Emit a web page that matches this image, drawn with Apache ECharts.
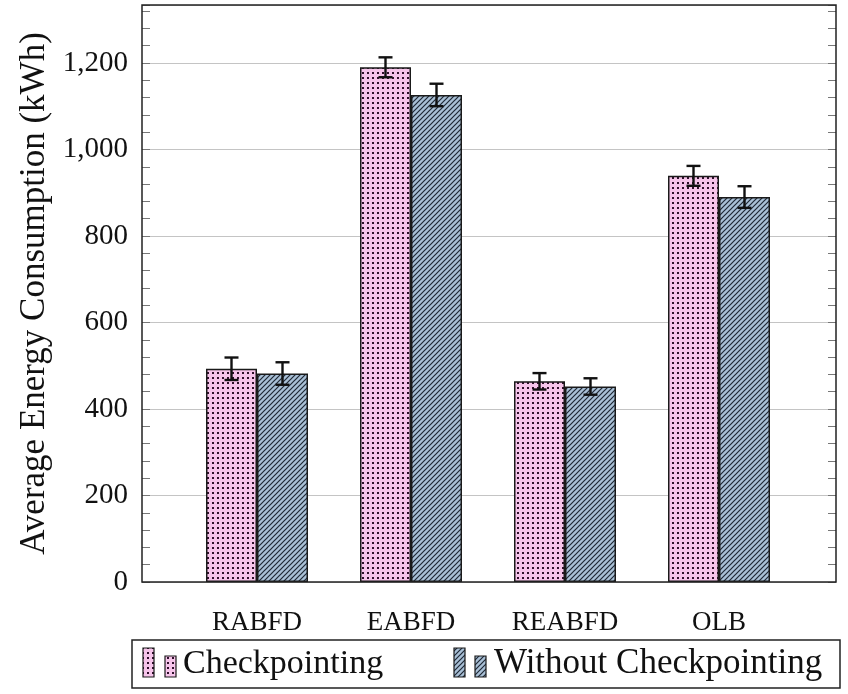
<!DOCTYPE html>
<html>
<head>
<meta charset="utf-8">
<script src="https://cdn.jsdelivr.net/npm/echarts@6/dist/echarts.min.js"></script>
<style>
html,body{margin:0;padding:0;background:#fff;}
#chart{width:848px;height:694px;}
</style>
</head>
<body>
<div id="chart"></div>
<script>
// ---- data ----
var categories = ['RABFD', 'EABFD', 'REABFD', 'OLB'];
var checkpointing = [493, 1190, 464, 939];
var withoutCheckpointing = [482, 1126, 452, 890];
var checkpointingErr = [26, 23, 19, 23];
var withoutCheckpointingErr = [26, 26, 19, 25];
var seriesNames = ['Checkpointing', 'Without Checkpointing'];
var yTickLabels = ['0', '200', '400', '600', '800', '1,000', '1,200'];
var yTitle = 'Average Energy Consumption (kWh)';

var Y_MAX = 1334;
var SERIF = '"Liberation Serif", "DejaVu Serif", serif';

function makeDots() {
  var c = document.createElement('canvas');
  c.width = 5; c.height = 5;
  var g = c.getContext('2d');
  g.fillStyle = '#f6c4ea';
  g.fillRect(0, 0, 5, 5);
  g.fillStyle = '#2e0f2a';
  g.fillRect(2, 2, 2, 2);
  return c;
}
function makeHatch() {
  var s = 5;
  var c = document.createElement('canvas');
  c.width = s; c.height = s;
  var g = c.getContext('2d');
  g.fillStyle = '#a9c0d6';
  g.fillRect(0, 0, s, s);
  g.strokeStyle = '#1f2836';
  g.lineWidth = 1.2;
  g.beginPath();
  g.moveTo(-1, s + 1); g.lineTo(s + 1, -1);
  g.moveTo(-1, 1); g.lineTo(1, -1);
  g.moveTo(s - 1, s + 1); g.lineTo(s + 1, s - 1);
  g.stroke();
  return c;
}
var dotPattern = {image: makeDots(), repeat: 'repeat'};
var hatchPattern = {image: makeHatch(), repeat: 'repeat'};

var chart = echarts.init(document.getElementById('chart'), null, {renderer: 'canvas'});

var BAR_W = 51;

function errRender(offsetSign) {
  return function (params, api) {
    var xi = api.value(0), v = api.value(1), e = api.value(2);
    var top = api.coord([xi, v + e]);
    var bot = api.coord([xi, v - e]);
    var x = top[0] + offsetSign * BAR_W / 2;
    var cap = 7;
    var st = {stroke: '#111', lineWidth: 2.4};
    return {
      type: 'group',
      children: [
        {type: 'line', shape: {x1: x, y1: top[1], x2: x, y2: bot[1]}, style: st},
        {type: 'line', shape: {x1: x - cap, y1: top[1], x2: x + cap, y2: top[1]}, style: st},
        {type: 'line', shape: {x1: x - cap, y1: bot[1], x2: x + cap, y2: bot[1]}, style: st}
      ]
    };
  };
}

var errData1 = categories.map(function (c, i) { return [i, checkpointing[i], checkpointingErr[i]]; });
var errData2 = categories.map(function (c, i) { return [i, withoutCheckpointing[i], withoutCheckpointingErr[i]]; });

var tickAxisBase = {
  type: 'value', gridIndex: 0, min: 0, max: Y_MAX, interval: 40,
  axisLine: {show: false},
  axisLabel: {show: false},
  splitLine: {show: false},
  axisTick: {show: true, inside: true, length: 8, lineStyle: {color: '#777', width: 1}}
};

var option = {
  backgroundColor: '#fff',
  animation: false,
  grid: [
    {left: 142, top: 5, width: 694, height: 577, show: true, borderColor: '#222', borderWidth: 1.5, backgroundColor: 'transparent', z: 10},
    {left: 180, top: 5, width: 616, height: 577}
  ],
  xAxis: [
    {type: 'category', gridIndex: 0, data: categories, show: false},
    {type: 'category', gridIndex: 1, data: categories,
     axisLine: {show: false}, axisTick: {show: false},
     axisLabel: {fontFamily: SERIF, fontSize: 27, color: '#111', margin: 27}}
  ],
  yAxis: [
    {type: 'value', gridIndex: 0, min: 0, max: Y_MAX, interval: 200,
     axisLine: {show: false},
     axisTick: {show: false},
     axisLabel: {fontFamily: SERIF, fontSize: 29, color: '#111', margin: 14,
       formatter: function (v) { var k = Math.round(v / 200); return (v % 200 === 0 && k < yTickLabels.length) ? yTickLabels[k] : ''; }},
     splitLine: {show: true, lineStyle: {color: '#c4c4c4', width: 1.2}},
     name: yTitle, nameLocation: 'middle', nameGap: 88,
     nameTextStyle: {fontFamily: SERIF, fontSize: 35, color: '#111'}},
    Object.assign({}, tickAxisBase, {position: 'left'}),
    Object.assign({}, tickAxisBase, {position: 'right'}),
    {type: 'value', gridIndex: 1, min: 0, max: Y_MAX, show: false}
  ],
  series: [
    {name: seriesNames[0], type: 'bar', xAxisIndex: 1, yAxisIndex: 3, data: checkpointing,
     barWidth: BAR_W, barGap: '0%',
     itemStyle: {color: dotPattern, borderColor: '#1a1a1a', borderWidth: 1.5}},
    {name: seriesNames[1], type: 'bar', xAxisIndex: 1, yAxisIndex: 3, data: withoutCheckpointing,
     barWidth: BAR_W, barGap: '0%',
     itemStyle: {color: hatchPattern, borderColor: '#1a1a1a', borderWidth: 1.5}},
    {type: 'custom', xAxisIndex: 1, yAxisIndex: 3, data: errData1, renderItem: errRender(-1), z: 5},
    {type: 'custom', xAxisIndex: 1, yAxisIndex: 3, data: errData2, renderItem: errRender(1), z: 5}
  ],
  graphic: [
    {type: 'rect', shape: {x: 132, y: 640, width: 708, height: 48}, style: {fill: '#fff', stroke: '#222', lineWidth: 1.5}},
    {type: 'rect', shape: {x: 143, y: 648, width: 11, height: 29}, style: {fill: dotPattern, stroke: '#1a1a1a', lineWidth: 1.2}},
    {type: 'rect', shape: {x: 165, y: 656, width: 11, height: 21}, style: {fill: dotPattern, stroke: '#1a1a1a', lineWidth: 1.2}},
    {type: 'text', x: 183, y: 664, style: {text: seriesNames[0], font: '34px ' + SERIF, fill: '#111', textVerticalAlign: 'middle', verticalAlign: 'middle'}},
    {type: 'rect', shape: {x: 454, y: 648, width: 11, height: 29}, style: {fill: hatchPattern, stroke: '#1a1a1a', lineWidth: 1.2}},
    {type: 'rect', shape: {x: 475, y: 656, width: 11, height: 21}, style: {fill: hatchPattern, stroke: '#1a1a1a', lineWidth: 1.2}},
    {type: 'text', x: 494, y: 664, style: {text: seriesNames[1], font: '35px ' + SERIF, fill: '#111', textVerticalAlign: 'middle', verticalAlign: 'middle'}}
  ]
};
chart.setOption(option);
</script>
</body>
</html>
